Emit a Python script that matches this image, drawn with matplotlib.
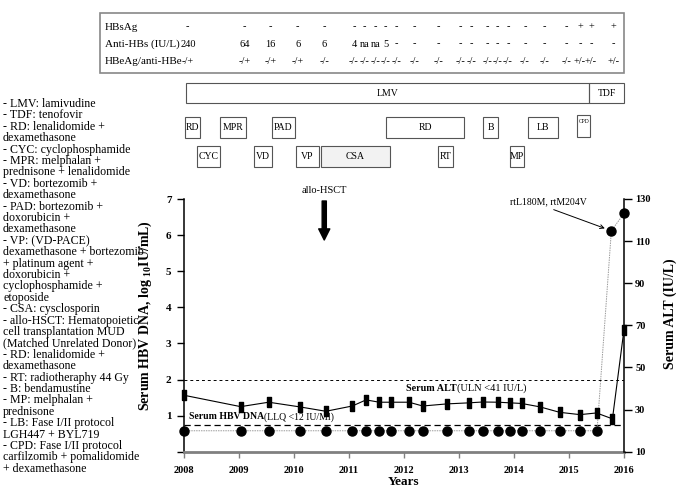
import matplotlib
matplotlib.use('Agg')
import matplotlib.pyplot as plt
import matplotlib.transforms as mtransforms
from matplotlib.patches import Rectangle

plt.rcParams['font.family'] = ['Liberation Serif', 'DejaVu Serif']
plt.rcParams['mathtext.fontset'] = 'custom'
plt.rcParams['mathtext.rm'] = 'Liberation Serif:bold'
plt.rcParams['mathtext.bf'] = 'Liberation Serif:bold'
plt.rcParams['hatch.color'] = '#8a8a8a'
plt.rcParams['hatch.linewidth'] = 0.6

# serum HBV DNA, log10 IU/mL (circles, left axis)
dna_years = [2008.0, 2009.03, 2009.54, 2010.10, 2010.58, 2011.06, 2011.31, 2011.55,
             2011.77, 2012.09, 2012.35, 2012.78, 2013.18, 2013.43, 2013.71, 2013.93,
             2014.14, 2014.47, 2014.83, 2015.20, 2015.51, 2015.77, 2016.0]
dna_log = [0.58, 0.58, 0.58, 0.58, 0.58, 0.58, 0.58, 0.58, 0.58, 0.58, 0.58, 0.58,
           0.58, 0.58, 0.58, 0.58, 0.58, 0.58, 0.58, 0.58, 0.58, 6.12, 6.60]

# serum ALT, IU/L (squares, right axis)
alt_years = [2008.0, 2009.03, 2009.54, 2010.10, 2010.58, 2011.06, 2011.31, 2011.55,
             2011.77, 2012.09, 2012.34, 2012.78, 2013.18, 2013.43, 2013.71, 2013.93,
             2014.14, 2014.47, 2014.83, 2015.20, 2015.50, 2015.79, 2016.0]
alt_vals = [36.8, 31.4, 33.5, 31.3, 29.2, 31.7, 34.6, 33.5, 33.5, 33.5, 31.7, 32.7,
            33.2, 33.6, 33.5, 33.2, 32.9, 31.3, 28.7, 27.6, 28.4, 25.6, 68.0]

dna_llq = 0.74
alt_uln = 44

year_ticks = [2008, 2009, 2010, 2011, 2012, 2013, 2014, 2015, 2016]
dna_ticks = [0, 1, 2, 3, 4, 5, 6, 7]
dna_labels = ['', '1', '2', '3', '4', '5', '6', '7']
alt_ticks = [10, 30, 50, 70, 90, 110, 130]

# serology table
table_rows = ['HBsAg', 'Anti-HBs (IU/L)', 'HBeAg/anti-HBe']
table_x = [2008.07, 2009.10, 2009.57, 2010.07, 2010.55, 2011.09, 2011.28, 2011.48,
           2011.67, 2011.86, 2012.19, 2012.62, 2013.02, 2013.22, 2013.51, 2013.70,
           2013.89, 2014.20, 2014.56, 2014.95, 2015.20, 2015.40, 2015.81]
hbsag = ['-', '-', '-', '-', '-', '-', '-', '-', '-', '-', '-', '-', '-', '-', '-',
         '-', '-', '-', '-', '-', '+', '+', '+']
anti_hbs = ['240', '64', '16', '6', '6', '4', 'na', 'na', '5', '-', '-', '-', '-',
            '-', '-', '-', '-', '-', '-', '-', '-', '-', '-']
hbeag = ['-/+', '-/+', '-/+', '-/+', '-/-', '-/-', '-/-', '-/-', '-/-', '-/-', '-/-',
         '-/-', '-/-', '-/-', '-/-', '-/-', '-/-', '-/-', '-/-', '-/-', '+/-', '+/-', '+/-']

# antiviral therapy
av_names = ['LMV', 'TDF']
av_start = [2008.03, 2015.365]
av_end = [2015.365, 2016.0]

# chemotherapy, two rows
rowa_names = ['RD', 'MPR', 'PAD', 'RD', 'B', 'LB', 'CPD']
rowa_start = [2008.01, 2008.66, 2009.60, 2011.67, 2013.44, 2014.25, 2015.15]
rowa_end = [2008.29, 2009.13, 2010.01, 2013.10, 2013.71, 2014.80, 2015.39]
rowb_names = ['CYC', 'VD', 'VP', 'CSA', 'RT', 'MP']
rowb_start = [2008.24, 2009.28, 2010.04, 2010.49, 2012.62, 2013.93]
rowb_end = [2008.66, 2009.60, 2010.45, 2011.74, 2012.89, 2014.19]

hsct_year = 2010.55

legend_lines = [
    '- LMV: lamivudine', '- TDF: tenofovir', '- RD: lenalidomide +', 'dexamethasone',
    '- CYC: cyclophosphamide', '- MPR: melphalan +', 'prednisone + lenalidomide',
    '- VD: bortezomib +', 'dexamethasone', '- PAD: bortezomib +', 'doxorubicin +',
    'dexamethasone', '- VP: (VD-PACE)', 'dexamethasone + bortezomib',
    '+ platinum agent +', 'doxorubicin +', 'cyclophosphamide +', 'etoposide',
    '- CSA: cysclosporin', '- allo-HSCT: Hematopoietic', 'cell transplantation MUD',
    '(Matched Unrelated Donor)', '- RD: lenalidomide +', 'dexamethasone',
    '- RT: radiotheraphy 44 Gy', '- B: bendamustine', '- MP: melphalan +',
    'prednisone', '- LB: Fase I/II protocol', 'LGH447 + BYL719',
    '- CPD: Fase I/II protocol', 'carfilzomib + pomalidomide', '+ dexamethasone']

W, H = 680, 498
fig = plt.figure(figsize=(W / 100, H / 100), dpi=100)
ax = fig.add_axes([184 / W, 1 - 451.7 / H, 440 / W, 252.7 / H])
ax2 = ax.twinx()
fax = fig.add_axes([0, 0, 1, 1])
fax.set_xlim(0, W)
fax.set_ylim(H, 0)
fax.axis('off')
# x in years, y in pixels from the top
trans = mtransforms.blended_transform_factory(ax.transData, fax.transData)

ax.set_xlim(2008, 2016)
ax.set_ylim(0, 7)
ax2.set_ylim(10, 130)

ax.plot(dna_years, dna_log, color='#9a9a9a', lw=0.7, ls=(0, (1.5, 1)), marker='o',
        ms=6.5, mfc='k', mec='k', clip_on=False, zorder=4)
rect = [(-0.55, -1), (0.55, -1), (0.55, 1), (-0.55, 1), (-0.55, -1)]
ax2.plot(alt_years, alt_vals, color='k', lw=0.8, marker=rect, ms=6.5,
         clip_on=False, zorder=4)
ax.axhline(dna_llq, color='k', lw=0.9, ls=(0, (5, 3)))
ax2.axhline(alt_uln, color='k', lw=0.7, ls=(0, (3, 3)))

for s in ['top', 'right']:
    ax.spines[s].set_visible(False)
for s in ['top', 'left', 'bottom']:
    ax2.spines[s].set_visible(False)
ax.spines['bottom'].set_color('#808080')
ax.spines['bottom'].set_linewidth(2)
ax.spines['left'].set_linewidth(1.1)
ax2.spines['right'].set_linewidth(1.1)

ax.set_xticks(year_ticks)
ax.set_xticklabels([str(y) for y in year_ticks], fontsize=7.5, fontweight='bold')
ax.set_yticks(dna_ticks)
ax.set_yticklabels(dna_labels, fontsize=8, fontweight='bold')
ax2.set_yticks(alt_ticks)
ax2.set_yticklabels([str(v) for v in alt_ticks], fontsize=7.5, fontweight='bold')
ax.tick_params(axis='x', length=4, width=1, color='#808080', pad=6)
ax.tick_params(axis='y', length=5, width=1, pad=4)
ax2.tick_params(axis='y', length=6, width=1, pad=2)

ax.set_xlabel('Years', fontsize=9.5, fontweight='bold', labelpad=1)
ax.set_ylabel(r'Serum HBV DNA, log $_{10}$IU/mL)', fontsize=10, fontweight='bold')
ax.yaxis.set_label_coords(-0.069, 0.54)
ax2.set_ylabel('Serum ALT (IU/L)', fontsize=10, fontweight='bold')
ax2.yaxis.set_label_coords(1.089, 0.545)

t1 = fax.text(2008.09, 416.7, 'Serum HBV DNA', transform=trans, fontsize=7,
              fontweight='bold', va='center')
fax.annotate('(LLQ <12 IU/Ml)', xy=(1, 0.5), xycoords=t1, fontsize=7, va='center')
t2 = fax.text(2012.04, 388.3, 'Serum ALT', transform=trans, fontsize=7.3,
              fontweight='bold', va='center')
fax.annotate('(ULN <41 IU/L)', xy=(1, 0.5), xycoords=t2, fontsize=7.5, va='center')

ax.annotate('rtL180M, rtM204V', xy=(dna_years[-2], dna_log[-2]), xytext=(2014.63, 6.92),
            ha='center', va='center', fontsize=7,
            arrowprops=dict(arrowstyle='->', lw=0.7, color='k', shrinkA=1, shrinkB=5,
                            relpos=(0.45, 0)))

# allo-HSCT arrow
fax.text(hsct_year, 190, 'allo-HSCT', transform=trans, fontsize=7.5, ha='center', va='center')
fax.annotate('', xy=(hsct_year, 240), xytext=(hsct_year, 201), xycoords=trans,
             textcoords=trans,
             arrowprops=dict(arrowstyle='simple,head_length=0.8,head_width=0.8,tail_width=0.3',
                             fc='k', ec='k', mutation_scale=10, shrinkA=0, shrinkB=0))

# serology table
fax.add_patch(Rectangle((100, 13), 523.5, 60, fill=False, ec='#888888', lw=1.2))
row_y = [27, 44, 61]
for lbl, y in zip(table_rows, row_y):
    fax.text(105, y, lbl, fontsize=8, va='center')
for vals, y in zip([hbsag, anti_hbs, hbeag], row_y):
    for xv, v in zip(table_x, vals):
        fax.text(xv, y, v, transform=trans, fontsize=7.5, ha='center', va='center')


def box(x0, x1, ytop, h, name, fs=7, hatch=None, va_off=0):
    if hatch:
        fax.add_patch(Rectangle((x0, ytop), x1 - x0, h, transform=trans, fc='#f2f2f2',
                                ec='none', hatch=hatch, lw=0))
    fax.add_patch(Rectangle((x0, ytop), x1 - x0, h, transform=trans, fill=False,
                            ec='#555555', lw=0.8))
    fax.text((x0 + x1) / 2, ytop + h / 2 + va_off, name, transform=trans, fontsize=fs,
             ha='center', va='center')


for n, a, b in zip(av_names, av_start, av_end):
    box(a, b, 83, 20, n)
for n, a, b in zip(rowa_names, rowa_start, rowa_end):
    if n == 'CPD':
        box(a, b, 115, 22, n, fs=4, va_off=-5)
    else:
        box(a, b, 117, 21, n)
for n, a, b in zip(rowb_names, rowb_start, rowb_end):
    box(a, b, 146, 21, n, hatch='....' if n == 'CSA' else None)

# abbreviations on the left
for i, line in enumerate(legend_lines):
    fax.text(3, 104 + i * 11.4, line, fontsize=8.6, va='center')

fig.savefig('out.png', dpi=100)
